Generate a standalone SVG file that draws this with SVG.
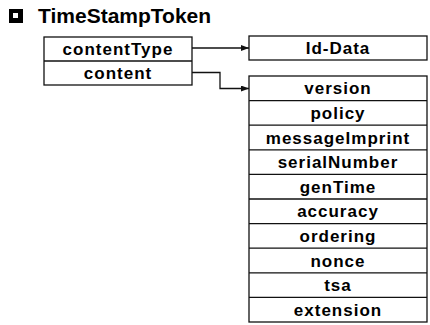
<svg xmlns="http://www.w3.org/2000/svg" width="430" height="325" viewBox="0 0 430 325">
<style>
.box{fill:#fff;stroke:#111;stroke-width:1.3}
.ln{stroke:#111;stroke-width:1.3;fill:none}
.t{font-family:"Liberation Sans",Arial,sans-serif;font-weight:bold;font-size:17px;letter-spacing:1px;fill:#000;text-anchor:middle}
.title{font-family:"Liberation Sans",Arial,sans-serif;font-weight:bold;font-size:21px;fill:#000}
</style>
<defs>
<marker id="ah" markerWidth="8" markerHeight="6" refX="8" refY="3" orient="auto" markerUnits="userSpaceOnUse">
<path d="M0,0 L8,3 L0,6 Z" fill="#111"/>
</marker>
</defs>
<rect width="430" height="325" fill="#fff"/>
<g id="title">
<rect x="9" y="9" width="14" height="14" fill="#000"/>
<rect x="13" y="13" width="5" height="5" fill="#fff"/>
<text class="title" x="38" y="23">TimeStampToken</text>
</g>
<g id="timestamptoken">
<rect class="box" x="44" y="37" width="148" height="48"/>
<line class="ln" x1="44" y1="61" x2="192" y2="61"/>
<text class="t" x="118" y="55">contentType</text>
<text class="t" x="118" y="79">content</text>
</g>
<g id="iddata">
<rect class="box" x="249" y="36" width="178" height="24"/>
<text class="t" x="338" y="54">Id-Data</text>
</g>
<g id="tstinfo">
<rect class="box" x="249" y="76" width="178" height="246"/>
<line class="ln" x1="249" y1="100.6" x2="427" y2="100.6"/>
<line class="ln" x1="249" y1="125.2" x2="427" y2="125.2"/>
<line class="ln" x1="249" y1="149.8" x2="427" y2="149.8"/>
<line class="ln" x1="249" y1="174.4" x2="427" y2="174.4"/>
<line class="ln" x1="249" y1="199" x2="427" y2="199"/>
<line class="ln" x1="249" y1="223.6" x2="427" y2="223.6"/>
<line class="ln" x1="249" y1="248.2" x2="427" y2="248.2"/>
<line class="ln" x1="249" y1="272.8" x2="427" y2="272.8"/>
<line class="ln" x1="249" y1="297.4" x2="427" y2="297.4"/>
<text class="t" x="338" y="94.3">version</text>
<text class="t" x="338" y="118.9">policy</text>
<text class="t" x="338" y="143.5">messageImprint</text>
<text class="t" x="338" y="168.1">serialNumber</text>
<text class="t" x="338" y="192.7">genTime</text>
<text class="t" x="338" y="217.3">accuracy</text>
<text class="t" x="338" y="241.9">ordering</text>
<text class="t" x="338" y="266.5">nonce</text>
<text class="t" x="338" y="291.1">tsa</text>
<text class="t" x="338" y="315.7">extension</text>
</g>
<g id="connectors">
<line class="ln" x1="192" y1="48" x2="249" y2="48" marker-end="url(#ah)"/>
<polyline class="ln" points="192,72.5 220,72.5 220,88.5 249,88.5" marker-end="url(#ah)"/>
</g>
</svg>
